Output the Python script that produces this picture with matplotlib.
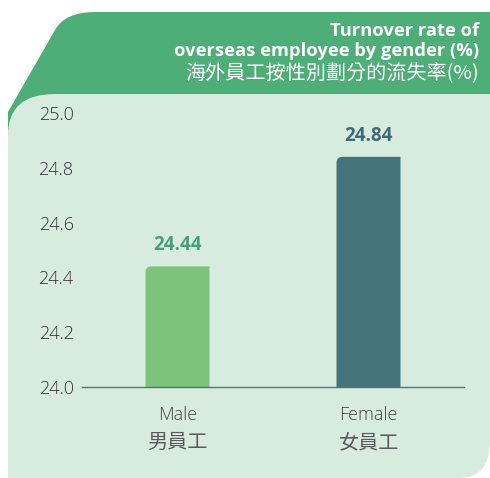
import matplotlib
matplotlib.use("Agg")
import matplotlib.pyplot as plt
from matplotlib.path import Path
from matplotlib.patches import PathPatch
from matplotlib.transforms import blended_transform_factory, offset_copy

categories_en = ["Male", "Female"]
categories_zh = ["男員工", "女員工"]
values = [24.44, 24.84]
bar_colors = ["#7BC47A", "#44737C"]
label_colors = ["#4A9E7E", "#3F6B75"]
yticks = [24.0, 24.2, 24.4, 24.6, 24.8, 25.0]
title_lines = ["Turnover rate of", "overseas employee by gender (%)", "海外員工按性別劃分的流失率(%)"]

LATIN = ['Open Sans', 'Noto Sans CJK TC', 'DejaVu Sans']
CJK = ['Noto Sans CJK TC', 'DejaVu Sans']
plt.rcParams['font.family'] = LATIN

W, H = 490, 478
fig = plt.figure(figsize=(4.9, 4.78), dpi=100)

# background shapes in pixel coords
bg = fig.add_axes([0, 0, 1, 1], zorder=0)
bg.set_xlim(0, W)
bg.set_ylim(H, 0)
bg.axis('off')

header_green = "#4DAE77"
panel_col = "#D8EBDF"

verts = [(490, 12), (95, 12), (65, 12), (55, 30), (8, 112), (8, 200), (490, 200), (490, 12)]
codes = [Path.MOVETO, Path.LINETO, Path.CURVE3, Path.CURVE3, Path.LINETO, Path.LINETO, Path.LINETO, Path.CLOSEPOLY]
bg.add_patch(PathPatch(Path(verts, codes), facecolor=header_green, edgecolor='none'))

verts = [(8, 478), (8, 135), (8, 94), (55, 94), (490, 94), (490, 440), (490, 478), (460, 478), (8, 478)]
codes = [Path.MOVETO, Path.LINETO, Path.CURVE3, Path.CURVE3, Path.LINETO, Path.LINETO, Path.CURVE3, Path.CURVE3, Path.CLOSEPOLY]
bg.add_patch(PathPatch(Path(verts, codes), facecolor=panel_col, edgecolor='none'))

bg.text(479, 36, title_lines[0], ha='right', va='baseline', color='white', fontsize=13.2, fontweight='bold')
bg.text(479, 55.5, title_lines[1], ha='right', va='baseline', color='white', fontsize=13.2, fontweight='bold')
bg.text(479, 78, title_lines[2], ha='right', va='baseline', color='white', fontsize=14.5, family=CJK)

# main axes
ax = fig.add_axes([82 / W, 1 - 387 / H, (464 - 82) / W, (387 - 113) / H], zorder=1)
ax.patch.set_alpha(0)
x = list(range(len(values)))
bars = ax.bar(x, [v - 24.0 for v in values], bottom=24.0, width=0.335, color=bar_colors)
ax.set_xlim(-0.5, 1.5)
ax.set_ylim(24.0, 25.0)
ax.set_yticks(yticks)
ax.set_yticklabels([f"{t:.1f}" for t in yticks], fontsize=13, color='#333333', fontweight='light')
ax.set_xticks(x)
ax.set_xticklabels([])
ax.tick_params(axis='both', length=0)
ax.tick_params(axis='y', pad=6)
for s in ['top', 'right', 'left']:
    ax.spines[s].set_visible(False)
ax.spines['bottom'].set_color('#4E7480')
ax.spines['bottom'].set_linewidth(1.0)

# category labels (two lines: English light, Chinese)
tr = blended_transform_factory(ax.transData, ax.transAxes)
for xi, en, zh in zip(x, categories_en, categories_zh):
    ax.text(xi, 0, en, transform=offset_copy(tr, fig=fig, y=-33, units='dots'), ha='center', va='baseline',
            fontsize=13, fontweight='light', color='#444444', family=LATIN)
    ax.text(xi, 0, zh, transform=offset_copy(tr, fig=fig, y=-61, units='dots'), ha='center', va='baseline',
            fontsize=14.5, fontweight=300, color='#5a5a5a', family=CJK)

# round the top-left corner of each bar (derived from the bar geometry)
r = 6.0  # pixels
for b in bars:
    b.set_visible(False)
    (x0, y0), (x1, y1) = ax.transData.transform([(b.get_x(), b.get_y()), (b.get_x() + b.get_width(), b.get_y() + b.get_height())])
    X0, X1 = x0, x1
    Yb, Yt = H - y0, H - y1
    v = [(X0, Yb), (X0, Yt + r), (X0, Yt), (X0 + r, Yt), (X1, Yt), (X1, Yb), (X0, Yb)]
    c = [Path.MOVETO, Path.LINETO, Path.CURVE3, Path.CURVE3, Path.LINETO, Path.LINETO, Path.CLOSEPOLY]
    bg.add_patch(PathPatch(Path(v, c), facecolor=b.get_facecolor(), edgecolor='none', zorder=3))

for xi, v, c in zip(x, values, label_colors):
    ax.annotate(f"{v:.2f}", (xi, v), xytext=(0, 8), textcoords='offset points',
                ha='center', va='bottom', fontsize=13.5, fontweight='bold', color=c)

fig.savefig("out.png", dpi=100)
